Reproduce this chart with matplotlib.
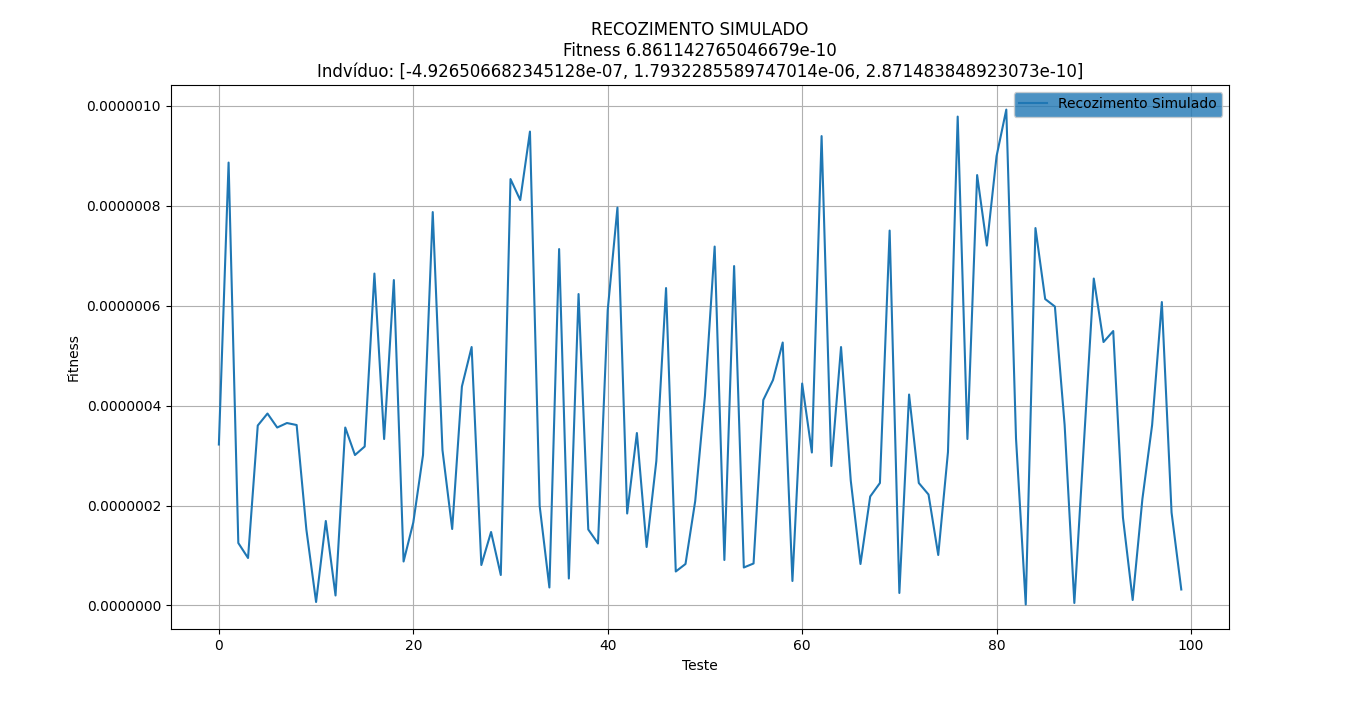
import matplotlib
matplotlib.use("Agg")
import matplotlib.pyplot as plt
from matplotlib.ticker import FormatStrFormatter

testes = list(range(100))
fitness_e6 = [
    0.322, 0.886, 0.125, 0.095, 0.360, 0.384, 0.356, 0.365, 0.361, 0.152,
    0.007, 0.169, 0.020, 0.356, 0.301, 0.318, 0.664, 0.333, 0.651, 0.088,
    0.166, 0.301, 0.787, 0.311, 0.153, 0.438, 0.517, 0.081, 0.147, 0.061,
    0.853, 0.811, 0.948, 0.199, 0.036, 0.713, 0.054, 0.623, 0.152, 0.124,
    0.591, 0.796, 0.184, 0.345, 0.117, 0.289, 0.635, 0.068, 0.083, 0.209,
    0.419, 0.718, 0.091, 0.679, 0.076, 0.084, 0.411, 0.451, 0.526, 0.049,
    0.444, 0.306, 0.939, 0.279, 0.517, 0.250, 0.083, 0.218, 0.245, 0.750,
    0.025, 0.422, 0.245, 0.222, 0.101, 0.307, 0.978, 0.333, 0.861, 0.720,
    0.899, 0.992, 0.334, 0.002, 0.755, 0.613, 0.598, 0.361, 0.005, 0.330,
    0.654, 0.527, 0.549, 0.176, 0.011, 0.213, 0.361, 0.607, 0.186, 0.032,
]
fitness = [v * 1e-6 for v in fitness_e6]

titulo = ("RECOZIMENTO SIMULADO\nFitness 6.861142765046679e-10\n"
          "Indvíduo: [-4.926506682345128e-07, 1.7932285589747014e-06, 2.871483848923073e-10]")

fig = plt.figure(figsize=(13.66, 7.07), dpi=100)
ax = fig.add_subplot(111)
ax.plot(testes, fitness, color="#1f77b4", linewidth=1.5, label="Recozimento Simulado")
ax.set_title(titulo, fontsize=12)
ax.set_xlabel("Teste")
ax.set_ylabel("Fitness")
ax.yaxis.set_major_formatter(FormatStrFormatter("%.7f"))
ax.grid(True, color="#b0b0b0", linewidth=0.8)
leg = ax.legend(loc="upper right", facecolor="#1f77b4", framealpha=0.8)
fig.savefig("out.png", dpi=100)
